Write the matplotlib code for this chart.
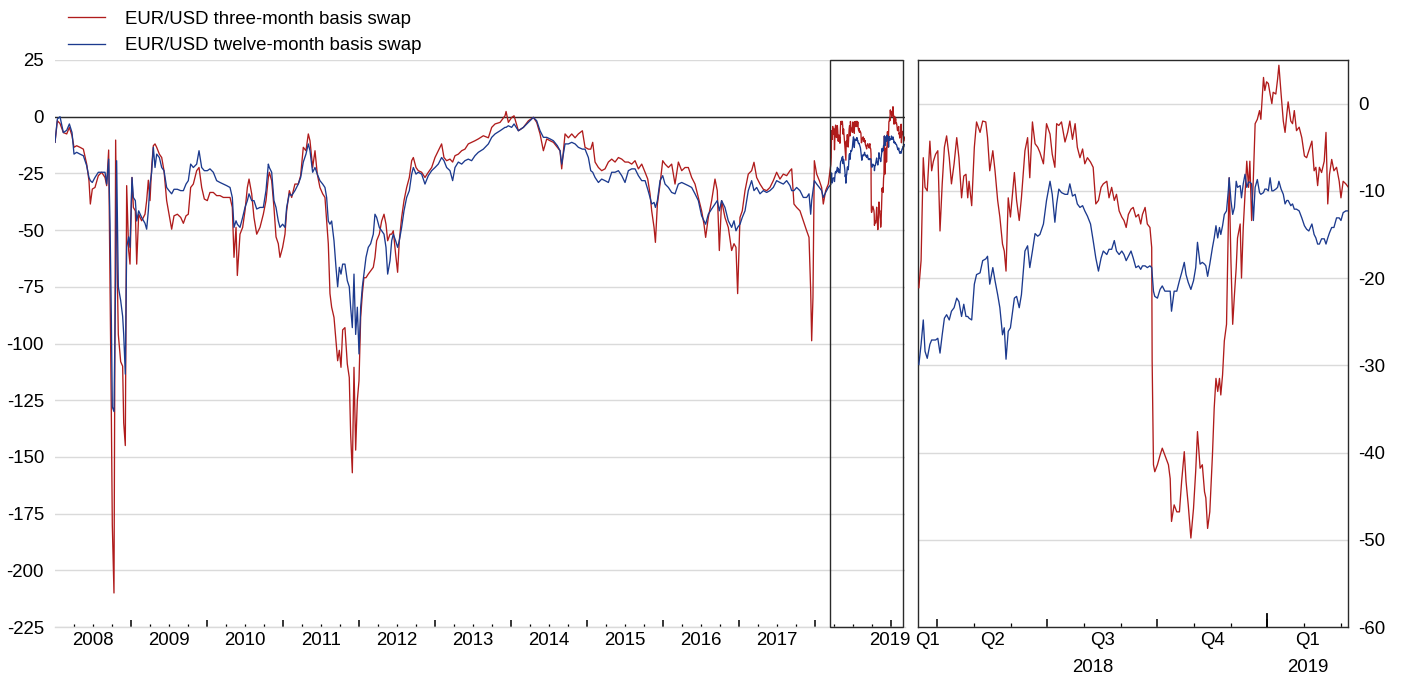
import numpy as np
import matplotlib
matplotlib.use("Agg")
import matplotlib.pyplot as plt
from matplotlib.patches import Rectangle
from matplotlib.ticker import FixedLocator
from matplotlib.lines import Line2D

plt.rcParams['font.family'] = ['Liberation Sans', 'DejaVu Sans']
plt.rcParams['axes.unicode_minus'] = False

# ---------------- data (time in decimal years, values in basis points) ----------------
t_2008 = [2008.000, 2008.031, 2008.066, 2008.110, 2008.154, 2008.189, 2008.224, 2008.250, 2008.285, 2008.329,
          2008.373, 2008.417, 2008.447, 2008.465, 2008.491, 2008.526, 2008.570, 2008.614, 2008.658, 2008.680,
          2008.706, 2008.724, 2008.741, 2008.754, 2008.776, 2008.798, 2008.811, 2008.833, 2008.864, 2008.890,
          2008.904, 2008.925, 2008.943, 2008.969, 2008.987]
r_2008 = [-11.3, -1.8, -3, -7, -7.6, -4.7, -8.4, -13.5, -12.8, -13.5,
          -14.3, -20.9, -28.2, -38.5, -31.9, -31.2, -26, -24.5, -26.8, -30.4,
          -14.7, -72, -130, -180, -210, -10.3, -52, -96, -108, -110,
          -135, -145, -30.4, -59, -65]
b_2008 = [-11.3, -1, 0, -7, -6, -3.2, -7, -16.5, -15.7, -16.5,
          -17.2, -21.6, -26.8, -28.2, -29, -26.8, -24.5, -24.5, -24.5, -29.7,
          -18.7, -47, -88, -128, -130, -71, -19.4, -75, -81, -88,
          -96, -113.5, -57.6, -53, -57.6]

t_2009 = [2009.013, 2009.031, 2009.057, 2009.075, 2009.101, 2009.140, 2009.184, 2009.206, 2009.228, 2009.250,
          2009.272, 2009.294, 2009.316, 2009.338, 2009.373, 2009.404, 2009.434, 2009.469, 2009.500, 2009.535,
          2009.566, 2009.610, 2009.654, 2009.689, 2009.724, 2009.754, 2009.785, 2009.820, 2009.864, 2009.895,
          2009.930, 2009.965]
r_2009 = [-26.8, -40, -41.5, -65, -43, -45.9, -43, -37, -28, -37,
          -22, -12.8, -12, -13.5, -16.5, -18, -23.8, -37, -43, -49.6,
          -43.7, -43, -44.4, -47, -43.7, -43, -31.2, -29.7, -23.8, -22.4,
          -31.2, -36.3]
b_2009 = [-26.8, -35.6, -37, -46, -41.5, -44.4, -47, -49.6, -41.5, -29.7,
          -24.5, -13.5, -22.4, -16.5, -18, -22.4, -23.8, -31.2, -32.6, -34,
          -32, -32, -32.6, -32.6, -29.7, -28.2, -20.9, -22.4, -20.9, -15,
          -22.4, -23.8]

t_2010 = [2010.004, 2010.039, 2010.083, 2010.127, 2010.171, 2010.215, 2010.259, 2010.303, 2010.333, 2010.355,
          2010.382, 2010.399, 2010.434, 2010.469, 2010.500, 2010.531, 2010.553, 2010.588, 2010.618, 2010.654,
          2010.697, 2010.741, 2010.776, 2010.807, 2010.820, 2010.851, 2010.881, 2010.908, 2010.938, 2010.960,
          2010.995]
r_2010 = [-37, -33.4, -33.4, -34.8, -34.8, -35.6, -35.6, -35.6, -40, -62,
          -48.8, -70, -51.8, -48.8, -41.5, -31.2, -27.5, -34, -44.4, -51.8,
          -48.8, -43, -37, -26.8, -24.5, -28.2, -40, -53, -56, -62,
          -57.6]
b_2010 = [-23.8, -23, -24.5, -28.2, -29, -29.7, -30.4, -31.2, -35.6, -48.8,
          -45.9, -47.4, -48.8, -44.4, -40, -37, -34, -37, -37, -40.7,
          -40, -40, -32.6, -20.9, -22.4, -24.5, -37, -40, -46, -48.8,
          -47.4]

t_2011 = [2011.026, 2011.048, 2011.083, 2011.114, 2011.157, 2011.201, 2011.232, 2011.267, 2011.302, 2011.333,
          2011.355, 2011.390, 2011.421, 2011.451, 2011.486, 2011.522, 2011.552, 2011.574, 2011.596, 2011.618,
          2011.640, 2011.671, 2011.697, 2011.719, 2011.741, 2011.763, 2011.785, 2011.815, 2011.846, 2011.872,
          2011.890, 2011.912, 2011.934, 2011.956, 2011.978]
r_2011 = [-51.8, -41.5, -32.6, -35.6, -29.7, -29.7, -26, -13.5, -15, -7.6,
          -10.6, -22.4, -15, -25.3, -31.2, -34, -35.6, -46, -56, -78,
          -84, -88.5, -98.8, -107.6, -103, -110.5, -94, -93, -109, -115,
          -140, -157, -110.5, -147, -125]
b_2011 = [-48.8, -40, -34, -34.8, -32.6, -29.7, -26.8, -20, -16.5, -12,
          -15, -24.5, -22.4, -25.3, -28.2, -29.7, -31.2, -35.6, -46, -47.4,
          -46, -54.7, -66.4, -75, -66.4, -69.4, -65, -65, -72.3, -75,
          -84, -93, -69.4, -96, -84]

t_2012 = [2012.000, 2012.022, 2012.044, 2012.065, 2012.092, 2012.122, 2012.153, 2012.188, 2012.210, 2012.232,
          2012.267, 2012.298, 2012.329, 2012.355, 2012.377, 2012.408, 2012.430, 2012.451, 2012.482, 2012.508,
          2012.530, 2012.561, 2012.592, 2012.627, 2012.662, 2012.693, 2012.715, 2012.750, 2012.780, 2012.824,
          2012.868, 2012.912, 2012.956]
r_2012 = [-116.4, -88.5, -78, -71, -71, -69.4, -68, -66.4, -62, -54.7,
          -51.8, -46, -43, -47.4, -54.7, -51.8, -51.8, -50.3, -60.6, -68.6,
          -54.7, -44.4, -37, -31.2, -26.8, -19.4, -18, -22.4, -23.8, -24.5,
          -26.8, -24.5, -22.4]
b_2012 = [-104.6, -84, -75, -69.4, -62, -57.6, -56, -51.8, -43, -44.4,
          -48.8, -50.3, -51.8, -57.6, -69.4, -63.5, -54.7, -51.8, -54.7, -57.6,
          -54.7, -48.8, -41.5, -35.6, -32.6, -25.3, -22.4, -25.3, -24.5, -25.3,
          -29.7, -26, -23.8]

t_2013 = [2013.000, 2013.043, 2013.087, 2013.118, 2013.153, 2013.197, 2013.232, 2013.263, 2013.307, 2013.351,
          2013.394, 2013.438, 2013.482, 2013.526, 2013.570, 2013.636, 2013.702, 2013.746, 2013.790, 2013.856,
          2013.921, 2013.935, 2013.965]
r_2013 = [-18, -15, -12, -18, -19.4, -18.7, -20, -17.2, -16.5, -15,
          -14.3, -12, -11.3, -10.6, -9.8, -8.4, -9.3, -4.7, -3.2, -2.5,
          0.4, 2.3, -2.5]
b_2013 = [-22.4, -20.9, -18, -19.4, -22.4, -23.8, -28.2, -22.4, -20, -20.9,
          -19.4, -18.7, -19.4, -17.2, -15.7, -14.3, -12, -9.1, -7.6, -6.2,
          -4.7, -4.7, -4]

t_2014 = [2014.009, 2014.040, 2014.097, 2014.163, 2014.229, 2014.294, 2014.338, 2014.382, 2014.426, 2014.470,
          2014.514, 2014.558, 2014.610, 2014.645, 2014.667, 2014.711, 2014.755, 2014.799, 2014.843, 2014.886,
          2014.939, 2014.974]
r_2014 = [-0.3, 0.4, -6.2, -4.7, -1.8, -0.3, -2.5, -7.6, -15, -9.8,
          -10.6, -11.3, -13.5, -15, -23, -7.6, -9.3, -7.6, -9.3, -7.6,
          -6.2, -13.5]
b_2014 = [-4.7, -3.2, -6.2, -4.7, -2.5, -0.3, -1.8, -6.2, -9.1, -9.1,
          -9.8, -10.6, -12.8, -15, -20.9, -12, -12, -11.3, -12, -13.5,
          -14.3, -14.3]

t_2015 = [2015.018, 2015.049, 2015.075, 2015.106, 2015.150, 2015.193, 2015.237, 2015.281, 2015.325, 2015.369,
          2015.413, 2015.457, 2015.500, 2015.544, 2015.588, 2015.632, 2015.676, 2015.720, 2015.764, 2015.799,
          2015.829, 2015.851, 2015.882, 2015.900, 2015.926, 2015.961, 2015.996]
r_2015 = [-14.3, -14.3, -11.3, -20, -22.4, -23.8, -23, -20, -18.7, -20,
          -18, -18.7, -20, -20, -20.9, -19.4, -23, -20.9, -24.5, -27.5,
          -34, -41.5, -48.8, -55.4, -38.5, -29.7, -19.4]
b_2015 = [-18, -23.8, -24.5, -26.8, -29, -27.5, -28.2, -29, -24.5, -24.5,
          -23.8, -26, -29, -23.8, -23, -23, -26, -28.2, -28.2, -32,
          -35.6, -38.5, -37.8, -40, -37, -28.2, -26]

t_2016 = [2016.027, 2016.071, 2016.114, 2016.158, 2016.202, 2016.246, 2016.290, 2016.333, 2016.377, 2016.421,
          2016.465, 2016.508, 2016.539, 2016.561, 2016.596, 2016.640, 2016.684, 2016.714, 2016.741, 2016.771,
          2016.815, 2016.859, 2016.903, 2016.934, 2016.960, 2016.982]
r_2016 = [-20.9, -22.4, -20.9, -29.7, -20, -23.8, -22.4, -22.4, -26.8, -29.7,
          -35.6, -41.5, -47.4, -53.2, -44.4, -37, -27.5, -32.6, -59, -37,
          -44.4, -48.8, -59, -56, -57.6, -78]
b_2016 = [-29.7, -31.2, -33.4, -34, -29.7, -29, -29.7, -30.4, -31.2, -34,
          -37, -43.7, -45.9, -47.4, -43, -40.7, -38.5, -37, -41.5, -37,
          -40, -45.9, -48.8, -45.9, -50.3, -48.8]

t_2017 = [2017.013, 2017.043, 2017.079, 2017.122, 2017.166, 2017.197, 2017.232, 2017.276, 2017.320, 2017.364,
          2017.407, 2017.451, 2017.495, 2017.539, 2017.583, 2017.627, 2017.671, 2017.693, 2017.723, 2017.758,
          2017.802, 2017.846, 2017.890, 2017.921, 2017.943, 2017.956, 2017.973, 2017.991,
          2018.022, 2018.057, 2018.087, 2018.109, 2018.140, 2018.175]
r_2017 = [-44.4, -41.5, -32.6, -25.3, -23.8, -20.1, -26.8, -29.7, -32, -32.6,
          -31.2, -28.2, -24.5, -27.5, -25.3, -26, -23.8, -23, -38.5, -40,
          -41.5, -45.9, -50.3, -53.2, -76.8, -98.8, -79.7, -19.4,
          -25.3, -28.2, -31.2, -38.5, -32.6, -29.7]
b_2017 = [-47.4, -44.4, -41.5, -32.6, -28.2, -32.6, -31.2, -34, -32.6, -33.4,
          -32.6, -31.2, -28.2, -29, -29.7, -28.2, -30.4, -32.6, -32.6, -31.2,
          -32.6, -35.6, -35.6, -34, -43, -37, -32.6, -28.2,
          -29.7, -31.2, -32.6, -35.6, -33.4, -31.2]

# detailed period shown in the right-hand panel (mid-March 2018 to early March 2019)
t_zoom = [2018.208, 2018.213, 2018.218, 2018.222, 2018.227, 2018.233, 2018.237, 2018.241, 2018.246, 2018.251,
          2018.256, 2018.261, 2018.266, 2018.271, 2018.277, 2018.282, 2018.288, 2018.294, 2018.299, 2018.305,
          2018.310, 2018.315, 2018.319, 2018.322, 2018.328, 2018.334, 2018.339, 2018.347, 2018.353, 2018.360,
          2018.364, 2018.369, 2018.376, 2018.381, 2018.387, 2018.392, 2018.398, 2018.402, 2018.406, 2018.411,
          2018.416, 2018.425, 2018.430, 2018.436, 2018.441, 2018.449, 2018.455, 2018.460, 2018.466, 2018.472,
          2018.478, 2018.483, 2018.491, 2018.498, 2018.506, 2018.511, 2018.517, 2018.521, 2018.526, 2018.532,
          2018.540, 2018.546, 2018.551, 2018.557, 2018.563, 2018.568, 2018.574, 2018.580, 2018.585, 2018.591,
          2018.598, 2018.604, 2018.610, 2018.616, 2018.622, 2018.627, 2018.635, 2018.640, 2018.646, 2018.652,
          2018.657, 2018.663, 2018.669, 2018.674, 2018.679, 2018.684, 2018.690, 2018.695, 2018.701, 2018.707,
          2018.712, 2018.716, 2018.722, 2018.727, 2018.733, 2018.737, 2018.738, 2018.741, 2018.744, 2018.750,
          2018.756, 2018.761, 2018.767, 2018.775, 2018.779, 2018.782, 2018.788, 2018.794, 2018.800, 2018.805,
          2018.811, 2018.815, 2018.820, 2018.826, 2018.832, 2018.837, 2018.841, 2018.847, 2018.852, 2018.857,
          2018.860, 2018.864, 2018.869, 2018.875, 2018.879, 2018.883, 2018.887, 2018.891, 2018.894, 2018.898,
          2018.902, 2018.907, 2018.911, 2018.913, 2018.917, 2018.921, 2018.925, 2018.929, 2018.932, 2018.938,
          2018.941, 2018.945, 2018.949, 2018.953, 2018.957, 2018.960, 2018.964, 2018.968, 2018.972, 2018.977,
          2018.982, 2018.985, 2018.991, 2018.994, 2018.998, 2019.002, 2019.006, 2019.010, 2019.013, 2019.019,
          2019.023, 2019.026, 2019.031, 2019.036, 2019.040, 2019.044, 2019.047, 2019.053, 2019.057, 2019.061,
          2019.066, 2019.072, 2019.078, 2019.084, 2019.089, 2019.094, 2019.101, 2019.106, 2019.110, 2019.114,
          2019.118, 2019.123, 2019.129, 2019.133, 2019.137, 2019.141, 2019.146, 2019.151, 2019.157, 2019.163,
          2019.167, 2019.172, 2019.178, 2019.184]
r_zoom = [-21.1, -18, -6.2, -9.6, -10, -4.3, -7.7, -6.6, -5.8, -5.4,
          -14.6, -9.2, -5, -3.7, -6.2, -9.2, -6.9, -3.9, -6.2, -10.8,
          -8.3, -8.1, -10.8, -8.9, -11.7, -5, -2.1, -3.3, -2, -2.1,
          -3.9, -7.7, -5.4, -7.7, -11.1, -13, -16.1, -16.9, -19.2, -10.8,
          -13, -7.9, -11.1, -13.4, -10.8, -5.4, -3.9, -8.5, -2.1, -4.6,
          -5, -5.6, -6.9, -2.3, -3.5, -5.8, -7.3, -2.3, -2.5, -2.1,
          -4.4, -3.3, -2, -4.1, -2.3, -5, -6.2, -5.2, -6.9, -6.2,
          -6.7, -7.3, -11.5, -11.1, -9.6, -9.2, -8.9, -10.8, -9.6, -11.1,
          -10.4, -12.3, -13, -13.4, -14.2, -12.7, -12.1, -11.9, -13, -12.7,
          -13.8, -12.7, -11.9, -13.8, -14.2, -16.5, -29.5, -41.4, -42.2, -41.4,
          -40.3, -39.5, -40.3, -41.4, -43, -47.9, -46, -46.8, -46.8, -43.3,
          -39.9, -43.3, -46, -49.8, -46.4, -42.1, -37.6, -41.8, -41.4, -44.5,
          -45.2, -48.7, -46.8, -40.3, -34.9, -31.5, -33, -31.5, -33.4, -31.1,
          -27.2, -25.3, -14.2, -8.5, -18, -25.3, -21.9, -18.8, -15.4, -13.8,
          -20, -14.2, -10.4, -6.6, -9.6, -6.6, -13.4, -8.5, -2.3, -1.8,
          -0.8, -1.8, 3, 1.5, 2.5, 2.3, 1.1, 0, 1.3, 1.1,
          2.8, 4.4, 1.1, -2, -3.3, -1.2, 0.2, -2, -2.3, -0.8,
          -3.1, -2.7, -3.9, -6, -6.2, -5.4, -4.3, -7.7, -7.3, -9.4,
          -7.3, -7.9, -6.6, -3.3, -11.5, -8.1, -6.4, -7.7, -7.3, -8.9,
          -10.8, -8.9, -9.2, -9.6]
b_zoom = [-29.9, -27.6, -24.8, -28.4, -29.2, -27.6, -27.1, -27.1, -27.1, -26.9,
          -28.6, -26.5, -24.6, -24.2, -24.8, -23.8, -23.4, -22.3, -22.7, -24.4,
          -23, -24.4, -24.4, -24.6, -24.8, -20.7, -19.6, -19.4, -18, -17.8,
          -17.5, -20.7, -18.8, -20.3, -21.9, -23.4, -26.5, -25.7, -29.3, -26.1,
          -25.7, -22.3, -22.1, -23.4, -21.9, -16.9, -16.3, -18.8, -16.9, -14.9,
          -15.2, -15, -13.8, -11.1, -8.9, -10.4, -13.6, -11.5, -9.8, -10.2,
          -10.4, -10.4, -9.2, -10.6, -10.4, -11.5, -11.9, -11.7, -12.3, -12.9,
          -13.8, -15.7, -17.7, -19.2, -17.7, -16.9, -17.3, -16.7, -16.7, -15.7,
          -16.9, -17.3, -16.9, -17.3, -18, -17.5, -16.9, -17.7, -18.8, -18.6,
          -19, -18.6, -18.6, -18.8, -18.6, -18.8, -19.5, -21.5, -22.1, -22.3,
          -21.3, -20.9, -21.5, -21.5, -21.5, -23.8, -21.5, -21.5, -20.3, -19.4,
          -18.2, -19.6, -20.5, -21.3, -20.3, -18.8, -15.9, -18.4, -18.2, -18.4,
          -18.6, -19.8, -18.4, -16.5, -15.4, -14, -15.4, -14.2, -15, -14,
          -12.7, -12.3, -10, -8.5, -11.1, -12.7, -11.9, -8.9, -9.6, -9.4,
          -10.8, -9.2, -8.1, -9.6, -9, -9, -9.2, -13.4, -9.6, -8.7,
          -10.2, -10.4, -10.2, -9.8, -9.8, -10, -8.5, -10, -10, -9.8,
          -9.6, -8.9, -9.8, -10.4, -11.5, -11.1, -11.1, -11.7, -11.5, -12.1,
          -12.1, -12.3, -13.1, -14, -14.4, -14.6, -13.8, -15, -15.4, -16.1,
          -16.1, -15.5, -15.5, -16.1, -15.4, -14.8, -14.2, -14.2, -13.1, -13.1,
          -13.4, -12.5, -12.3, -12.3]

year_labels = ['2008', '2009', '2010', '2011', '2012', '2013', '2014', '2015', '2016', '2017']
quarter_labels = ['Q1', 'Q2', 'Q3', 'Q4', 'Q1']
legend_labels = ['EUR/USD three-month basis swap', 'EUR/USD twelve-month basis swap']

# ---------------- assemble ----------------
t_all = np.concatenate([t_2008, t_2009, t_2010, t_2011, t_2012, t_2013, t_2014,
                        t_2015, t_2016, t_2017, t_zoom])
r_all = np.concatenate([r_2008, r_2009, r_2010, r_2011, r_2012, r_2013, r_2014,
                        r_2015, r_2016, r_2017, r_zoom])
b_all = np.concatenate([b_2008, b_2009, b_2010, b_2011, b_2012, b_2013, b_2014,
                        b_2015, b_2016, b_2017, b_zoom])
assert len(t_all) == len(r_all) == len(b_all)
assert len(t_zoom) == len(r_zoom) == len(b_zoom)

RED = '#B01C1C'
BLUE = '#1C3A8E'
GRID = '#DADADA'
FRAME = '#2A2A2A'
LW = 0.95
FS = 13.4

W, H = 1406, 675
PX = 72 / 100  # points per pixel at dpi 100
fig = plt.figure(figsize=(W / 100, H / 100), dpi=100)
axL = fig.add_axes([55 / W, 48 / H, 850 / W, 567 / H])
axR = fig.add_axes([918 / W, 48 / H, 430 / W, 567 / H])

# ---------------- left panel ----------------
axL.plot(t_all, r_all, color=RED, lw=LW, zorder=3)
axL.plot(t_all, b_all, color=BLUE, lw=LW, zorder=4)
axL.set_xlim(2008.0, 2019.184)
axL.set_ylim(-225, 25)
axL.set_yticks(np.arange(-225, 26, 25))
axL.set_yticklabels([f'{v:d}' for v in range(-225, 26, 25)])
axL.tick_params(axis='y', length=0, pad=11 * PX, labelsize=FS)
axL.grid(axis='y', color=GRID, lw=1, zorder=0)
axL.axhline(0, color=FRAME, lw=1, zorder=2)
for s in ['top', 'left', 'right']:
    axL.spines[s].set_visible(False)
axL.spines['bottom'].set_color(GRID)
axL.spines['bottom'].set_linewidth(1)
axL.xaxis.set_major_locator(FixedLocator(np.arange(2009, 2020)))
axL.xaxis.set_minor_locator(FixedLocator(np.arange(2008.25, 2019.2, 0.25)))
axL.tick_params(axis='x', which='major', direction='in', length=7 * PX, width=1.1,
                color='black', labelbottom=False)
axL.tick_params(axis='x', which='minor', direction='in', length=3.5 * PX, width=0.9,
                color='black', labelbottom=False)
xtr = axL.get_xaxis_transform()
for i, lab in enumerate(year_labels):
    axL.text(2008.5 + i, -0.023, lab, transform=xtr, ha='center', va='center', fontsize=FS)
axL.text(2018.98, -0.023, '2019', transform=xtr, ha='center', va='center', fontsize=FS)
axL.add_patch(Rectangle((2018.197, 0), 2019.158 - 2018.197, 1, transform=xtr,
                        fill=False, ec=FRAME, lw=1, zorder=5, clip_on=False))

# ---------------- right panel ----------------
axR.plot(t_zoom, r_zoom, color=RED, lw=LW, zorder=3)
axR.plot(t_zoom, b_zoom, color=BLUE, lw=LW, zorder=4)
x0, x1 = 2018.206, 2019.183
axR.set_xlim(x0, x1)
axR.set_ylim(-60, 5)
axR.yaxis.tick_right()
axR.set_yticks(np.arange(-60, 1, 10))
axR.set_yticklabels([f'{v:d}' for v in range(-60, 1, 10)])
axR.tick_params(axis='y', length=0, pad=10 * PX, labelsize=FS)
axR.grid(axis='y', color=GRID, lw=1, zorder=0)
for s in axR.spines.values():
    s.set_color(FRAME)
    s.set_linewidth(1)
axR.xaxis.set_major_locator(FixedLocator(np.arange(2018.25, 2019.2, 0.25)))
axR.xaxis.set_minor_locator(FixedLocator(np.arange(2018.25, 2019.2, 1 / 12)))
axR.tick_params(axis='x', which='major', direction='in', length=8 * PX, width=1.1,
                color='black', labelbottom=False)
axR.tick_params(axis='x', which='minor', direction='in', length=4 * PX, width=0.9,
                color='black', labelbottom=False)
axR.axvline(2019.0, ymin=0, ymax=13 / 567, color='black', lw=1.3, zorder=6)
xtrR = axR.get_xaxis_transform()
q_edges = [x0, 2018.25, 2018.5, 2018.75, 2019.0, x1]
for i, lab in enumerate(quarter_labels):
    axR.text((q_edges[i] + q_edges[i + 1]) / 2, -0.023, lab, transform=xtrR,
             ha='center', va='center', fontsize=FS)
axR.text((x0 + 2019.0) / 2, -0.071, '2018', transform=xtrR, ha='center', va='center', fontsize=FS)
axR.text((2019.0 + x1) / 2, -0.071, '2019', transform=xtrR, ha='center', va='center', fontsize=FS)

# ---------------- legend ----------------
handles = [Line2D([], [], color=RED, lw=LW), Line2D([], [], color=BLUE, lw=LW)]
fig.legend(handles, legend_labels, loc='upper left', bbox_to_anchor=(64 / W, 1 - 7 / H),
           frameon=False, fontsize=FS, handlelength=2.0, handletextpad=1.1,
           labelspacing=0.5, borderpad=0.2, borderaxespad=0)

fig.savefig('out.png', dpi=100)
